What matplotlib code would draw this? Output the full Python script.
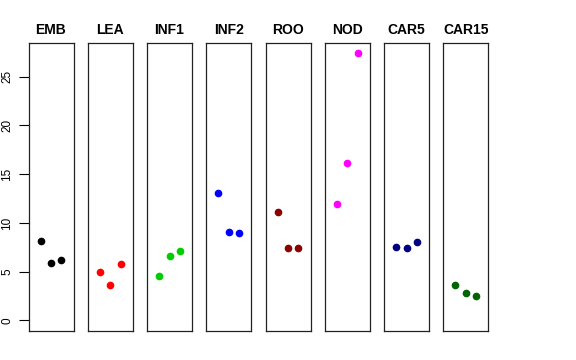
import matplotlib
matplotlib.use('Agg')
import matplotlib.pyplot as plt
import numpy as np

plt.rcParams['font.family'] = ['Liberation Sans', 'DejaVu Sans']

# 样本组名与颜色
groups = ['EMB', 'LEA', 'INF1', 'INF2', 'ROO', 'NOD', 'CAR5', 'CAR15']
colors = ['black', 'red', '#00CD00', 'blue', '#8B0000', 'magenta', '#000080', '#006400']

# 每组三个重复的数值
emb = [8.13, 5.86, 6.2]
lea = [4.94, 3.63, 5.83]
inf1 = [4.53, 6.65, 7.1]
inf2 = [13.1, 9.05, 8.92]
roo = [11.08, 7.44, 7.44]
nod = [11.93, 16.12, 27.4]
car5 = [7.51, 7.41, 8.06]
car15 = [3.63, 2.78, 2.5]
values = [emb, lea, inf1, inf2, roo, nod, car5, car15]

reps = [1, 2, 3]
y_ticks = [0, 5, 10, 15, 20, 25]

W, H = 576, 360
fig = plt.figure(figsize=(W / 100, H / 100), dpi=100)

ymax = max(max(v) for v in values)
ypad = ymax * 0.04

for i, (name, col, vals) in enumerate(zip(groups, colors, values)):
    left = 28.5 + i * 59.25
    ax = fig.add_axes([left / W, (H - 331) / H, 45 / W, (331 - 42.7) / H])
    ax.plot(reps, vals, 'o', color=col, ms=4.5, mec=col)
    ax.set_xlim(-0.16, 4.16)
    ax.set_ylim(-ypad, ymax + ypad)
    ax.set_xticks([])
    for s in ax.spines.values():
        s.set_linewidth(0.9)
        s.set_color('#222222')
    ax.set_title(name, fontsize=10, fontweight='bold', pad=6)
    if i == 0:
        ax.set_yticks(y_ticks)
        ax.set_yticklabels([str(t) for t in y_ticks], rotation=90, va='center', fontsize=8.5)
        ax.tick_params(axis='y', length=7, width=0.8, pad=4)
    else:
        ax.set_yticks([])

fig.savefig('out.png', dpi=100)
